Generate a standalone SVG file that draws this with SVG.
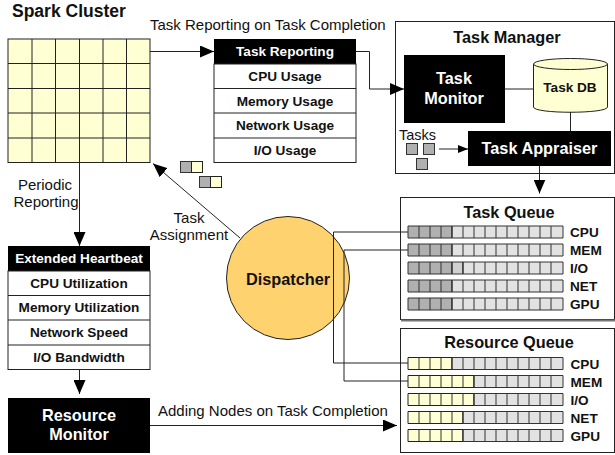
<svg xmlns="http://www.w3.org/2000/svg" width="615" height="455" viewBox="0 0 615 455">
<style>
text{font-family:"Liberation Sans",Arial,sans-serif;fill:#111}
.m{text-anchor:middle}
.l{font-size:15px}
.r{font-size:13.6px;font-weight:bold;text-anchor:middle}
.q{font-size:13.6px;font-weight:bold}
.t{font-size:16.3px;font-weight:bold;text-anchor:middle}
text.w{fill:#fff}
.box{fill:#fff;stroke:#222;stroke-width:1}
.k{fill:#000}
.y{fill:#ffffd4;stroke:#222;stroke-width:1}
.g{fill:#b0b0b0;stroke:#333;stroke-width:1}
.e{fill:#e2e2e2;stroke:#333;stroke-width:1}
.c{fill:none;stroke:#222;stroke-width:1}
.d{stroke:#333;stroke-dasharray:12 6;fill:none}
</style>
<defs>
<marker id="a" markerUnits="userSpaceOnUse" markerWidth="14" markerHeight="12" refX="14" refY="6" orient="auto"><path d="M0 0L14 6L0 12Z" fill="#000"/></marker>
<marker id="s" markerUnits="userSpaceOnUse" markerWidth="10" markerHeight="8" refX="10" refY="4" orient="auto"><path d="M0 0L10 4L0 8Z" fill="#000"/></marker>
</defs>

<text x="12" y="17" style="font-size:17.5px;font-weight:bold">Spark Cluster</text>
<text x="150" y="30" class="l">Task Reporting on Task Completion</text>
<text x="45" y="190" class="l m">Periodic</text>
<text x="46" y="207" class="l m">Reporting</text>
<text x="189" y="223" class="l m">Task</text>
<text x="189" y="240" class="l m">Assignment</text>
<text x="158" y="416" class="l">Adding Nodes on Task Completion</text>

<g id="spark-cluster" fill="#ffffd4" stroke="#222">
<rect x="8" y="39" width="142" height="123.500"/>
<path d="M32 39V162.500M55.500 39V162.500M79.500 39V162.500M103 39V162.500M126.500 39V162.500M8 63.500H150M8 88.500H150M8 113H150M8 138H150" fill="none"/>
</g>

<g id="task-reporting">
<rect x="214" y="39" width="142" height="25" class="k"/>
<rect x="214" y="64" width="142" height="98.500" class="box"/>
<path d="M214 88.500H356M214 113H356M214 138H356" class="c"/>
<text x="285" y="56" class="r w">Task Reporting</text>
<text x="285" y="81" class="r">CPU Usage</text>
<text x="285" y="106" class="r">Memory Usage</text>
<text x="285" y="130" class="r">Network Usage</text>
<text x="285" y="155" class="r">I/O Usage</text>
</g>

<g id="task-manager">
<rect x="395.500" y="21.500" width="219" height="152" class="box"/>
<text x="507" y="43" class="t">Task Manager</text>
</g>
<g id="task-monitor">
<rect x="404" y="55" width="101" height="68" class="k"/>
<text x="454" y="84" class="t w">Task</text>
<text x="454" y="104" class="t w">Monitor</text>
</g>
<g id="task-db">
<path d="M533.500 64V107C533.500 114 607.500 114 607.500 107V64" fill="#ffffd4" stroke="#222"/>
<ellipse cx="570.500" cy="64" rx="37" ry="5.500" fill="#ffffd4" stroke="#222"/>
<text x="570" y="92" class="r">Task DB</text>
</g>
<g id="task-appraiser">
<rect x="468" y="131" width="143" height="35" class="k"/>
<text x="539.500" y="154" class="t w">Task Appraiser</text>
</g>
<g id="tasks">
<text x="399" y="140" style="font-size:14.500px">Tasks</text>
<rect x="406.500" y="143.500" width="11" height="11" class="g"/>
<rect x="423.500" y="143.500" width="11" height="11" class="g"/>
<rect x="416.500" y="158.500" width="11" height="11" class="g"/>
</g>

<g id="task-queue">
<rect x="400.500" y="197.500" width="214" height="122" class="box"/>
<path d="M401 320.500H615" stroke="#777" stroke-width="2"/>
<text x="509" y="218" class="t">Task Queue</text>
<path d="M408 226h44v12h-44zM408 244h44v12h-44zM408 262h44v12h-44zM408 280h44v12h-44zM408 298h44v12h-44z" class="g"/>
<path d="M452 262h11v12h-11z" fill="#d0d0d0" stroke="#333"/>
<path d="M452 226h111v12h-111zM452 244h111v12h-111zM463 262h100v12h-100zM452 280h111v12h-111zM452 298h111v12h-111z" class="e"/>
<path d="M419 226v84M430 226v84M441 226v84M452 226v84M463 226v84M474 226v84M485 226v84M496 226v84M507 226v84M518 226v84M529 226v84M540 226v84M551 226v84" class="d"/>
<text x="570" y="237" class="q">CPU</text>
<text x="570" y="255" class="q">MEM</text>
<text x="570" y="273" class="q">I/O</text>
<text x="570" y="291" class="q">NET</text>
<text x="570" y="309" class="q">GPU</text>
</g>

<g id="resource-queue">
<rect x="400.500" y="328.500" width="214" height="124" class="box"/>
<text x="509" y="348" class="t">Resource Queue</text>
<path d="M408 357.500h44v12h-44zM408 375.500h66v12h-66zM408 393.500h66v12h-66zM408 411.500h55v12h-55zM408 429.500h55v12h-55z" class="y"/>
<path d="M452 357.500h111v12h-111zM474 375.500h89v12h-89zM474 393.500h89v12h-89zM463 411.500h100v12h-100zM463 429.500h100v12h-100z" class="e"/>
<path d="M419 357.500v84M430 357.500v84M441 357.500v84M452 357.500v84M463 357.500v84M474 357.500v84M485 357.500v84M496 357.500v84M507 357.500v84M518 357.500v84M529 357.500v84M540 357.500v84M551 357.500v84" class="d"/>
<text x="570.500" y="369" class="q">CPU</text>
<text x="570.500" y="387" class="q">MEM</text>
<text x="570.500" y="405" class="q">I/O</text>
<text x="570.500" y="423" class="q">NET</text>
<text x="570.500" y="441" class="q">GPU</text>
</g>

<g id="dispatcher">
<circle cx="288" cy="278" r="61.500" fill="#ffd270" stroke="#222"/>
<text x="288" y="285" class="t">Dispatcher</text>
</g>

<g id="extended-heartbeat">
<rect x="8" y="246" width="142" height="25" class="k"/>
<rect x="8" y="271" width="142" height="98.500" class="box"/>
<path d="M8 295.500H150M8 320H150M8 345H150" class="c"/>
<text x="79" y="263" class="r w">Extended Heartbeat</text>
<text x="79" y="288" class="r">CPU Utilization</text>
<text x="79" y="312" class="r">Memory Utilization</text>
<text x="79" y="337" class="r">Network Speed</text>
<text x="79" y="362" class="r">I/O Bandwidth</text>
</g>
<g id="resource-monitor">
<rect x="8" y="398" width="142" height="55" class="k"/>
<text x="79" y="421" class="t w">Resource</text>
<text x="79" y="440" class="t w">Monitor</text>
</g>

<g id="task-pairs">
<rect x="180.500" y="161.500" width="11" height="11" class="g"/><rect x="191.500" y="161.500" width="11" height="11" class="y"/>
<rect x="199.500" y="176.500" width="11" height="11" class="g"/><rect x="210.500" y="176.500" width="11" height="11" class="y"/>
</g>

<g id="connectors">
<path d="M150 51.500H214" class="c" marker-end="url(#a)"/>
<path d="M356 51.500H369.500V89H404" class="c" marker-end="url(#a)"/>
<path d="M505 89H533.500" class="c"/>
<path d="M570.500 112V131" class="c"/>
<path d="M439 149H468" class="c" marker-end="url(#s)"/>
<path d="M539.500 166V193.500" class="c" marker-end="url(#a)"/>
<path d="M79.500 162.500V246" class="c" marker-end="url(#a)"/>
<path d="M79.500 369.500V394" class="c" marker-end="url(#a)"/>
<path d="M150 425.500H397" class="c" marker-end="url(#a)"/>
<path d="M240 238L153 163.500" class="c" marker-end="url(#a)"/>
<path d="M408 232H333.500V363H408" class="c"/>
<path d="M408 250H344V381H408" class="c"/>
</g>
</svg>
